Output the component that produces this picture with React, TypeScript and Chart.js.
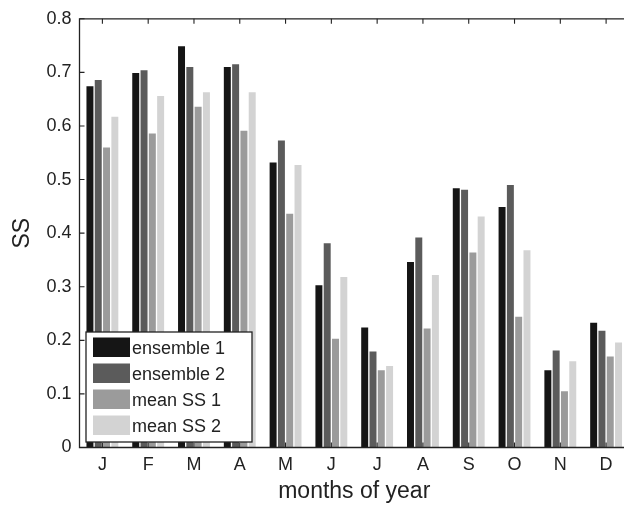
import React, { useEffect, useRef } from "react";
import { Chart, registerables } from "chart.js";

Chart.register(...registerables);

const months = ["J", "F", "M", "A", "M", "J", "J", "A", "S", "O", "N", "D"];
const seriesNames = ["ensemble 1", "ensemble 2", "mean SS 1", "mean SS 2"];
const seriesColors = ["#151515", "#5b5b5b", "#9b9b9b", "#d3d3d3"];
const ensemble1 = [0.674, 0.699, 0.749, 0.71, 0.532, 0.303, 0.224, 0.346, 0.484, 0.449, 0.144, 0.233];
const ensemble2 = [0.686, 0.704, 0.71, 0.715, 0.573, 0.381, 0.179, 0.392, 0.481, 0.49, 0.181, 0.218];
const meanSS1 = [0.56, 0.586, 0.636, 0.591, 0.436, 0.203, 0.144, 0.222, 0.364, 0.244, 0.105, 0.17];
const meanSS2 = [0.617, 0.656, 0.663, 0.663, 0.527, 0.318, 0.152, 0.322, 0.431, 0.368, 0.161, 0.196];
const yTicks = [0, 0.1, 0.2, 0.3, 0.4, 0.5, 0.6, 0.7, 0.8];
const yTickLabels = ["0", "0.1", "0.2", "0.3", "0.4", "0.5", "0.6", "0.7", "0.8"];
const xTitle = "months of year";
const yTitle = "SS";

const FONT = "'Liberation Sans', Arial, Helvetica, sans-serif";
const INK = "#222222";

const axesPlugin = {
  id: "matlabAxes",
  afterDatasetsDraw(chart: any) {
    const ctx = chart.ctx;
    const { left, right, top, bottom } = chart.chartArea;
    const xs = chart.scales.x;
    const ys = chart.scales.y;
    ctx.save();
    ctx.strokeStyle = INK;
    ctx.lineWidth = 1.3;
    ctx.beginPath();
    ctx.rect(left, top, right - left, bottom - top);
    ctx.stroke();
    ctx.lineWidth = 1.1;
    ctx.beginPath();
    const tl = 5;
    months.forEach((_, i) => {
      const x = xs.getPixelForValue(i);
      ctx.moveTo(x, bottom);
      ctx.lineTo(x, bottom - tl);
      ctx.moveTo(x, top);
      ctx.lineTo(x, top + tl);
    });
    yTicks.forEach((v) => {
      const y = ys.getPixelForValue(v);
      ctx.moveTo(left, y);
      ctx.lineTo(left + tl, y);
      ctx.moveTo(right, y);
      ctx.lineTo(right - tl, y);
    });
    ctx.stroke();

    // legend
    const lx = 86, ly = 332, lw = 166, lh = 110;
    ctx.fillStyle = "#ffffff";
    ctx.fillRect(lx, ly, lw, lh);
    ctx.lineWidth = 1.3;
    ctx.strokeStyle = INK;
    ctx.strokeRect(lx, ly, lw, lh);
    ctx.font = `18px ${FONT}`;
    ctx.textBaseline = "alphabetic";
    ctx.textAlign = "left";
    seriesNames.forEach((name, i) => {
      const sy = ly + 5.5 + i * 26;
      ctx.fillStyle = seriesColors[i];
      ctx.fillRect(lx + 7, sy, 37, 19.5);
      ctx.fillStyle = INK;
      ctx.fillText(name, lx + 46, sy + 16.5);
    });
    ctx.restore();
  },
};

export default function App() {
  const ref = useRef<HTMLCanvasElement | null>(null);
  useEffect(() => {
    if (!ref.current) return;
    const data = [ensemble1, ensemble2, meanSS1, meanSS2];
    const chart = new Chart(ref.current, {
      type: "bar",
      data: {
        labels: months,
        datasets: seriesNames.map((name, i) => ({
          label: name,
          data: data[i],
          backgroundColor: seriesColors[i],
          borderWidth: 0,
          categoryPercentage: 0.725,
          barPercentage: 0.84,
        })),
      },
      options: {
        responsive: false,
        animation: false,
        events: [],
        layout: { padding: { top: 15, right: 11, left: 0, bottom: 0 } },
        plugins: { legend: { display: false }, tooltip: { enabled: false } },
        scales: {
          x: {
            grid: { display: false, drawTicks: false },
            border: { display: false },
            ticks: { color: INK, font: { size: 18, family: FONT }, padding: 7, maxRotation: 0, autoSkip: false },
            title: { display: true, text: xTitle, color: INK, font: { size: 23, family: FONT }, padding: { top: 0, bottom: 0 } },
            afterFit: (s: any) => { s.height = 57.5; },
          },
          y: {
            min: 0,
            max: 0.8,
            grid: { display: false, drawTicks: false },
            border: { display: false },
            afterBuildTicks: (s: any) => { s.ticks = yTicks.map((v) => ({ value: v })); },
            ticks: {
              color: INK,
              font: { size: 18, family: FONT },
              padding: 8,
              callback: (v: any) => {
                const idx = yTicks.findIndex((t) => Math.abs(t - Number(v)) < 1e-9);
                return idx >= 0 ? yTickLabels[idx] : "";
              },
            },
            title: { display: true, text: yTitle, color: INK, font: { size: 23, family: FONT }, padding: { top: 9, bottom: 0 } },
            afterFit: (s: any) => { s.width = 79.5; },
          },
        },
      },
      plugins: [axesPlugin],
    });
    return () => chart.destroy();
  }, []);
  return (
    <div style={{ position: "fixed", left: 0, top: 0, width: 624, height: 505, overflow: "hidden", background: "#fff" }}>
      <canvas ref={ref} width={640} height={505} style={{ width: 640, height: 505, display: "block" }} />
    </div>
  );
}
